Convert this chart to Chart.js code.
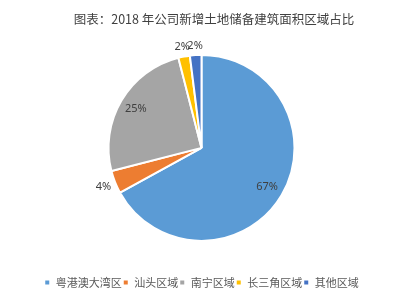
<!DOCTYPE html>
<html>
<head>
<meta charset="utf-8">
<script src="https://cdn.jsdelivr.net/npm/chart.js@4"></script>
<style>
  html, body { margin: 0; padding: 0; background: #fff; }
  #wrap { width: 416px; height: 305px; }
</style>
</head>
<body>
<div id="wrap"><canvas id="share"></canvas></div>
<script>
const regions = ['粤港澳大湾区', '汕头区域', '南宁区域', '长三角区域', '其他区域'];
const shares = [67, 4, 25, 2, 2];
const colors = ['#5B9BD5', '#ED7D31', '#A5A5A5', '#FFC000', '#4472C4'];

// % labels: big slices inside, small ones just outside the rim
const sliceLabels = {
  id: 'sliceLabels',
  afterDatasetsDraw(chart) {
    const ctx = chart.ctx;
    const meta = chart.getDatasetMeta(0);
    ctx.save();
    ctx.font = '11px "Noto Sans", sans-serif';
    ctx.fillStyle = '#404040';
    ctx.textAlign = 'center';
    ctx.textBaseline = 'middle';
    meta.data.forEach((arc, i) => {
      const v = shares[i];
      const txt = v + '%';
      const mid = (arc.startAngle + arc.endAngle) / 2;
      const c = Math.cos(mid), s = Math.sin(mid);
      let r;
      if (v >= 10) {
        r = arc.outerRadius * 0.82;
      } else {
        // keep the label box clear of the edge
        const hw = ctx.measureText(txt).width / 2, hh = 6;
        r = arc.outerRadius + 3 + Math.abs(c) * hw + Math.abs(s) * hh;
      }
      ctx.fillText(txt, arc.x + c * r, arc.y + s * r);
    });
    ctx.restore();
  }
};

new Chart(document.getElementById('share'), {
  type: 'pie',
  data: {
    labels: regions,
    datasets: [{
      data: shares,
      backgroundColor: colors,
      borderColor: '#ffffff',
      borderWidth: 2,
      radius: 93
    }]
  },
  options: {
    responsive: true,
    maintainAspectRatio: false,
    animation: false,
    layout: { padding: { left: 0, right: 13, top: 0, bottom: 7 } },
    plugins: {
      tooltip: { enabled: false },
      title: {
        display: true,
        text: '\u3000\u3000图表：2018 年公司新增土地储备建筑面积区域占比',
        color: '#404040',
        font: { size: 12.5, weight: 'normal', family: '"Noto Sans CJK SC", sans-serif' },
        padding: { top: 12, bottom: 0 }
      },
      legend: {
        position: 'bottom',
        title: { display: true, text: '', font: { size: 1 }, padding: { top: 0, bottom: 6 } },
        labels: {
          boxWidth: 6,
          boxHeight: 6,
          padding: 1,
          color: '#595959',
          font: { size: 11, family: '"Noto Sans CJK SC", sans-serif' }
        }
      }
    }
  },
  plugins: [sliceLabels]
});
</script>
</body>
</html>
